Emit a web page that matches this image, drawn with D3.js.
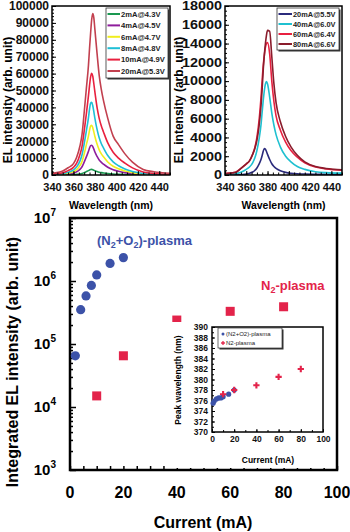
<!DOCTYPE html>
<html><head><meta charset="utf-8">
<script src="https://cdn.jsdelivr.net/npm/d3@7"></script>
<style>
html,body{margin:0;padding:0;background:#fff;}
svg{display:block;font-family:"Liberation Sans",Arial,sans-serif;font-weight:bold;}
</style></head><body>
<svg id="c" width="350" height="532"></svg>
<script>
// ---------- data ----------
const wavelengths = [340,350,355,360,363,366,368,370,372,374,375,376,377,378,379,380,382,384,386,388,392,397,402,408,415,425,435,450];

const lowLabels = ["2mA@4.3V","4mA@4.5V","6mA@4.7V","8mA@4.8V","10mA@4.9V","20mA@5.3V"];
const low2mA  = [0,50,100,200,350,600,900,1400,2000,2600,3000,3250,3300,3150,2850,2550,2050,1650,1400,1200,850,550,380,250,150,60,30,20];
const low4mA  = [100,300,650,1200,1900,3300,4900,7600,10700,14000,16000,17400,17600,16800,15300,13600,11000,8900,7500,6400,4600,3100,2200,1400,800,350,150,100];
const low6mA  = [200,500,1100,2000,3200,5500,8000,12500,17800,23200,26500,29000,29400,28000,25500,22800,18300,14900,12500,10800,7700,5200,3700,2400,1400,600,300,150];
const low8mA  = [300,800,1600,3000,4800,8200,12000,18500,26000,34000,39000,42500,43000,41000,37500,33500,27000,22000,18500,16000,11500,7800,5500,3600,2100,900,400,200];
const low10mA = [500,1300,2600,4500,7000,12000,17000,26000,36000,47000,53000,58000,60200,58500,54000,49000,40000,33500,29000,25500,19000,13500,10000,7000,4200,1800,900,400];
const low20mA = [1000,2400,4300,6700,10500,17000,24000,37000,51000,65000,75000,84000,92000,95500,93000,86000,72000,59000,50500,44000,33500,23000,18000,12500,7600,3300,1900,1000];

const highLabels = ["20mA@5.5V","40mA@6.0V","60mA@6.4V","80mA@6.6V"];
const high20mA = [0,20,50,100,180,320,480,750,1150,1700,2100,2550,2830,2750,2500,2200,1650,1200,900,700,450,280,190,130,100,80,70,60];
const high40mA = [80,150,300,600,850,1300,1800,2600,3800,5500,6800,8000,9000,9700,9950,9700,8300,6600,5300,4300,3000,2000,1400,900,600,350,250,200];
const high60mA = [150,300,700,1150,1500,2200,2900,4000,5800,8500,10200,11700,12800,13600,14000,14100,12900,10000,7800,6300,4800,3500,2600,1900,1300,850,650,520];
const high80mA = [150,300,700,1200,1500,2200,2800,3700,5200,7600,9300,11300,12800,14000,14900,15400,15300,12600,9700,7700,5700,4100,3000,2100,1400,900,700,550];

const lowYTicks = [0,10000,20000,30000,40000,50000,60000,70000,80000,90000,100000];
const highYTicks = [0,2000,4000,6000,8000,10000,12000,14000,16000,18000];
const wlTicks = [340,360,380,400,420,440];

const currentN2O2 = [2,4,6,8,10,15,20];
const intensityN2O2 = [65000,350000,580000,850000,1250000,1900000,2350000];
const currentN2 = [10,20,40,60,80];
const intensityN2 = [15000,65000,240000,330000,390000];
const currentTicks = [0,20,40,60,80,100];
const decadeTicks = [3,4,5,6,7];

const peakCurrentN2O2 = [1,2,4,6,8,10,15,20];
const peakWlN2O2 = [375.5,375.9,376.3,376.5,376.5,376.7,377.2,378.0];
const peakCurrentN2 = [10,20,40,60,80];
const peakWlN2 = [377.2,378.0,378.9,380.5,382.0];
const peakTicks = [370,372,374,376,378,380,382,384,386,388,390];

const lowColors = ["#1a9850","#8e1d9c","#f0ee1e","#1fbfd6","#e8213f","#c2404f"];
const highColors = ["#2b2b7c","#1fc0d0","#e82040","#8a1c2c"];
const blue = "#3c52a8", red = "#e3234a";

// ---------- drawing ----------
const svg = d3.select("#c");
const defs = svg.append("defs");
const FONT = '"Liberation Sans",Arial,sans-serif';
const TOP = 6, BOT = 175;

function spectrumPanel(o){
  const x = d3.scaleLinear().domain([340,450]).range([o.x0,o.x1]);
  const y = d3.scaleLinear().domain([0,o.ymax]).range([BOT,TOP]);
  const g = svg.append("g");
  defs.append("clipPath").attr("id",o.id).append("rect")
    .attr("x",o.x0).attr("y",TOP).attr("width",o.x1-o.x0).attr("height",BOT-TOP);
  const line = d3.line().x((d,i)=>x(wavelengths[i])).y(d=>y(d)).curve(d3.curveMonotoneX);
  const cg = g.append("g").attr("clip-path",`url(#${o.id})`);
  o.series.forEach((s,i)=>{
    cg.append("path").attr("d",line(s)).attr("fill","none")
      .attr("stroke",o.colors[i]).attr("stroke-width",1.6);
  });
  g.append("g").attr("transform",`translate(${o.x0},0)`)
    .call(d3.axisLeft(y).tickValues(d3.range(0,o.ymax+1,o.minor)).tickSize(-2).tickFormat(""))
    .call(a=>a.select(".domain").remove());
  g.append("g").attr("transform",`translate(0,${BOT})`)
    .call(d3.axisBottom(x).tickValues(d3.range(340,451,5)).tickSize(-2.5).tickFormat(""))
    .call(a=>a.select(".domain").remove());
  const ya = g.append("g").attr("transform",`translate(${o.x0},0)`)
    .call(d3.axisLeft(y).tickValues(o.yticks).tickSize(-4).tickPadding(3).tickFormat(d3.format("d")));
  ya.select(".domain").remove();
  ya.selectAll("text").attr("font-size",12).attr("font-weight","bold").attr("fill","#111").attr("font-family",FONT);
  if(o.stretch){ ya.selectAll("text").each(function(d){ const n=String(d).length; d3.select(this).attr("textLength",n*8).attr("lengthAdjust","spacingAndGlyphs");}); }
  const xa = g.append("g").attr("transform",`translate(0,${BOT})`)
    .call(d3.axisBottom(x).tickValues(wlTicks).tickSize(-4).tickPadding(8).tickFormat(d3.format("d")));
  xa.select(".domain").remove();
  xa.selectAll("text").attr("font-size",11).attr("font-weight","bold").attr("fill","#111").attr("font-family",FONT);
  g.append("rect").attr("x",o.x0).attr("y",TOP).attr("width",o.x1-o.x0).attr("height",BOT-TOP)
    .attr("fill","none").attr("stroke","#000").attr("stroke-width",1.5);
  g.append("text").attr("x",(o.x0+o.x1)/2).attr("y",209).attr("text-anchor","middle")
    .attr("font-size",10.5).text("Wavelength (nm)");
  g.append("text").attr("transform",`translate(${o.ylx},100) rotate(-90)`).attr("text-anchor","middle")
    .attr("font-size",12).text("EL intensity (arb. unit)");
  const L = o.legend;
  g.append("rect").attr("x",L.x+1.5).attr("y",L.y+1.5).attr("width",L.w).attr("height",L.h).attr("fill","#333");
  g.append("rect").attr("x",L.x).attr("y",L.y).attr("width",L.w).attr("height",L.h)
    .attr("fill","#fff").attr("stroke","#333").attr("stroke-width",0.8);
  o.labels.forEach((t,i)=>{
    const yy = L.y+6+i*L.dy;
    g.append("line").attr("x1",L.x+1.5).attr("x2",L.x+L.lw).attr("y1",yy).attr("y2",yy)
      .attr("stroke",o.colors[i]).attr("stroke-width",2);
    g.append("text").attr("x",L.x+L.lw+1).attr("y",yy+2.8).attr("font-size",L.fs).attr("fill","#222").text(t);
  });
}

spectrumPanel({id:"clipL",x0:52,x1:170,ymax:100000,minor:2000,yticks:lowYTicks,
  series:[low2mA,low4mA,low6mA,low8mA,low10mA,low20mA],colors:lowColors,labels:lowLabels,ylx:12,
  legend:{x:106,y:8,w:62,h:70,dy:11.4,lw:14,fs:7.6}});
spectrumPanel({id:"clipR",x0:225,x1:342,ymax:18000,minor:500,yticks:highYTicks,stretch:true,
  series:[high20mA,high40mA,high60mA,high80mA],colors:highColors,labels:highLabels,ylx:183,
  legend:{x:277,y:8,w:62,h:42,dy:10,lw:15,fs:7.4}});

// ---------- bottom panel ----------
const bx = d3.scaleLinear().domain([0,100]).range([70,337]);
const by = d3.scaleLog().domain([1e3,1e7]).range([470,218]);
const bg = svg.append("g");

const minorLog = [];
for(let e=3;e<7;e++) for(let m=2;m<10;m++) minorLog.push(m*Math.pow(10,e));
bg.append("g").attr("transform","translate(70,0)")
  .call(d3.axisLeft(by).tickValues(minorLog).tickSize(-3).tickFormat(""))
  .call(a=>a.select(".domain").remove());
bg.append("g").attr("transform","translate(70,0)")
  .call(d3.axisLeft(by).tickValues(decadeTicks.map(e=>Math.pow(10,e))).tickSize(-6).tickFormat(""))
  .call(a=>a.select(".domain").remove());
bg.append("g").attr("transform","translate(0,470)")
  .call(d3.axisBottom(bx).tickValues(d3.range(0,101,5)).tickSize(-4).tickFormat(""))
  .call(a=>a.select(".domain").remove());
bg.selectAll(".tick line").attr("stroke-width",1.5);
bg.append("rect").attr("x",70).attr("y",218).attr("width",267).attr("height",252)
  .attr("fill","none").attr("stroke","#000").attr("stroke-width",2.5);

decadeTicks.forEach(e=>{
  const t = bg.append("text").attr("x",56).attr("y",by(Math.pow(10,e))+5).attr("text-anchor","end")
    .attr("font-size",15);
  t.append("tspan").text("10");
  t.append("tspan").attr("font-size",10).attr("dy",-7).text(e);
});
currentTicks.forEach(c=>{
  bg.append("text").attr("x",bx(c)).attr("y",498).attr("text-anchor","middle").attr("font-size",16).text(c);
});
bg.append("text").attr("x",203).attr("y",528).attr("text-anchor","middle").attr("font-size",16).text("Current (mA)");
bg.append("text").attr("transform","translate(18,362) rotate(-90)").attr("text-anchor","middle")
  .attr("font-size",16).text("Integrated EL intensity (arb. unit)");

bg.selectAll("rect.n2").data(currentN2).enter().append("rect")
  .attr("x",(d)=>bx(d)-4.5).attr("y",(d,i)=>by(intensityN2[i])-4.5).attr("width",9).attr("height",9).attr("fill",red);
bg.selectAll("circle.n2o2").data(currentN2O2).enter().append("circle")
  .attr("cx",d=>bx(d)).attr("cy",(d,i)=>by(intensityN2O2[i])).attr("r",4.6).attr("fill",blue);

const a1 = bg.append("text").attr("x",97).attr("y",245).attr("font-size",13).attr("fill",blue);
a1.append("tspan").text("(N");
a1.append("tspan").attr("font-size",9).attr("dy",3).text("2");
a1.append("tspan").attr("dy",-3).text("+O");
a1.append("tspan").attr("font-size",9).attr("dy",3).text("2");
a1.append("tspan").attr("dy",-3).text(")-plasma");
const a2 = bg.append("text").attr("x",261).attr("y",290).attr("font-size",13).attr("fill",red);
a2.append("tspan").text("N");
a2.append("tspan").attr("font-size",9).attr("dy",3).text("2");
a2.append("tspan").attr("dy",-3).text("-plasma");

// ---------- inset ----------
const ix = d3.scaleLinear().domain([0,100]).range([212,323]);
const iy = d3.scaleLinear().domain([370,390]).range([432,327]);
const ig = svg.append("g");
ig.append("rect").attr("x",172).attr("y",322).attr("width",156).attr("height",146).attr("fill","#fff");
ig.append("g").attr("transform","translate(212,0)")
  .call(d3.axisLeft(iy).tickValues(d3.range(370,390.1,1)).tickSize(-2).tickFormat(""))
  .call(a=>a.select(".domain").remove());
const iya = ig.append("g").attr("transform","translate(212,0)")
  .call(d3.axisLeft(iy).tickValues(peakTicks).tickSize(-3).tickPadding(4).tickFormat(d3.format("d")));
iya.select(".domain").remove();
iya.selectAll("text").attr("font-size",8.5).attr("font-weight","bold").attr("fill","#111").attr("font-family",FONT);
const ixa = ig.append("g").attr("transform","translate(0,432)")
  .call(d3.axisBottom(ix).tickValues(currentTicks).tickSize(-3).tickPadding(4).tickFormat(d3.format("d")));
ixa.select(".domain").remove();
ixa.selectAll("text").attr("font-size",8.5).attr("font-weight","bold").attr("fill","#111").attr("font-family",FONT);
ig.append("g").attr("transform","translate(0,432)")
  .call(d3.axisBottom(ix).tickValues(d3.range(0,101,10)).tickSize(-2).tickFormat(""))
  .call(a=>a.select(".domain").remove());
ig.append("rect").attr("x",212).attr("y",327).attr("width",111).attr("height",105)
  .attr("fill","none").attr("stroke","#000").attr("stroke-width",1.5);
ig.append("text").attr("x",268).attr("y",463).attr("text-anchor","middle").attr("font-size",8.5).text("Current (mA)");
ig.append("text").attr("transform","translate(181,380) rotate(-90)").attr("text-anchor","middle")
  .attr("font-size",8.5).text("Peak wavelength (nm)");
ig.selectAll("circle.p1").data(peakCurrentN2O2).enter().append("circle")
  .attr("cx",d=>ix(d)).attr("cy",(d,i)=>iy(peakWlN2O2[i])).attr("r",2.6).attr("fill",blue);
const cross = d3.symbol().type(d3.symbolCross).size(22);
ig.selectAll("path.p2").data(peakCurrentN2).enter().append("path")
  .attr("d",cross).attr("transform",(d,i)=>`translate(${ix(d)},${iy(peakWlN2[i])})`).attr("fill",red);
ig.append("rect").attr("x",219.5).attr("y",329.5).attr("width",64).attr("height",20).attr("fill","#333");
ig.append("rect").attr("x",218).attr("y",328).attr("width",64).attr("height",20).attr("fill","#fff")
  .attr("stroke","#333").attr("stroke-width",0.7);
ig.append("circle").attr("cx",223).attr("cy",334).attr("r",1.5).attr("fill",blue);
ig.append("path").attr("d",d3.symbol().type(d3.symbolCross).size(8)).attr("transform","translate(223,343)").attr("fill",red);
ig.append("text").attr("x",226).attr("y",336.2).attr("font-size",6).attr("font-weight","normal").attr("fill","#222").text("(N2+O2)-plasma");
ig.append("text").attr("x",226).attr("y",345.2).attr("font-size",6).attr("font-weight","normal").attr("fill","#222").text("N2-plasma");
</script>
</body></html>
